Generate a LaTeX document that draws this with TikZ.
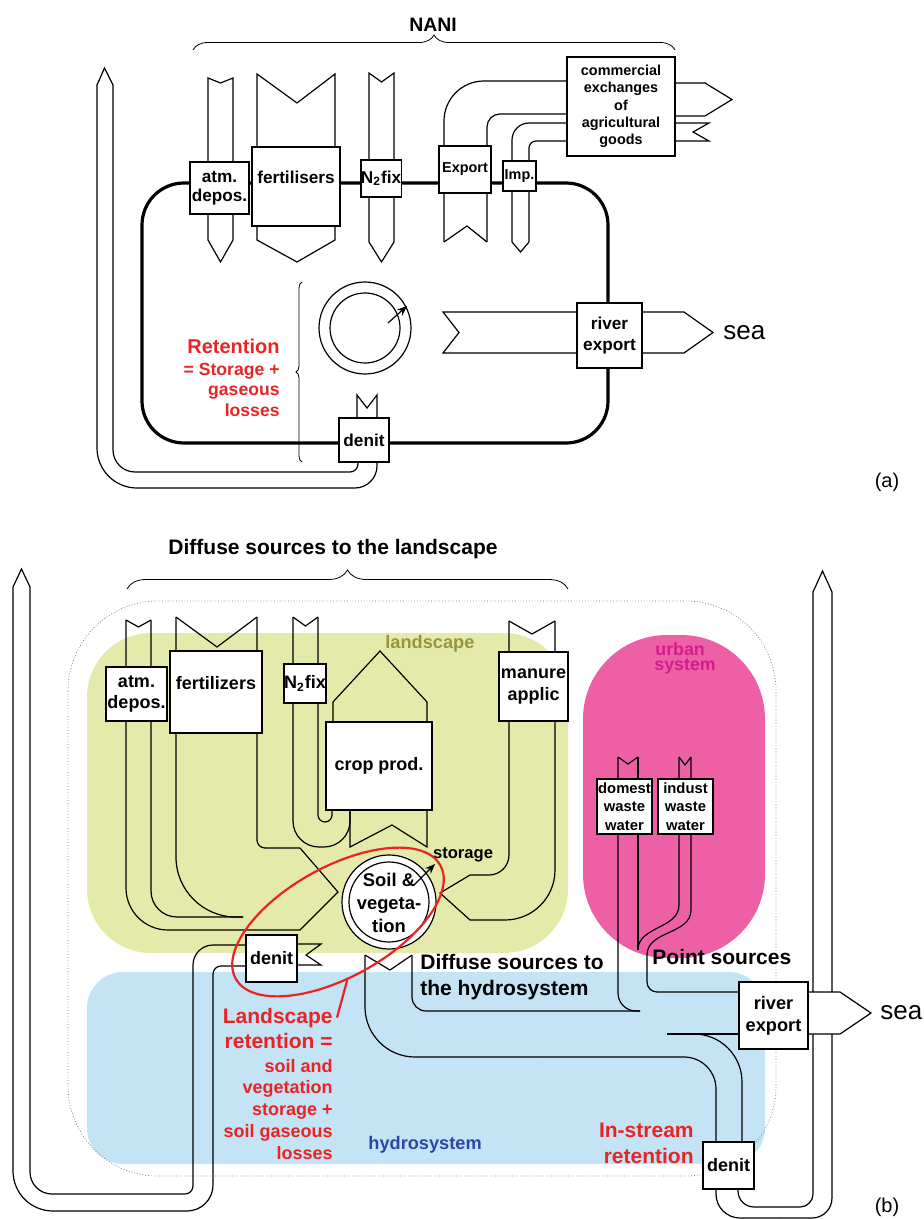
\documentclass[tikz,border=0pt]{standalone}
\usepackage{fontspec}
\setmainfont{Liberation Sans}
\usepackage{tikz}
\usetikzlibrary{arrows.meta, shapes.geometric, decorations.pathreplacing}

\definecolor{landfill}{RGB}{228,235,170}
\definecolor{urbanfill}{RGB}{237,96,166}
\definecolor{hydrofill}{RGB}{196,228,246}
\definecolor{landtxt}{RGB}{150,150,60}
\definecolor{urbantxt}{RGB}{210,30,140}
\definecolor{hydrotxt}{RGB}{45,70,170}
\definecolor{retred}{RGB}{232,36,36}

\begin{document}
\begin{tikzpicture}[
    x=0.5pt, y=-0.5pt,
    box/.style={draw, fill=white, line width=0.6pt, inner sep=0pt, align=center},
    band/.style={line width=0.6pt},
    fatloop/.style={line width=1.6pt},
    lblA/.style={font=\bfseries\fontsize{8.6}{9.7}\selectfont},
    lblB/.style={font=\bfseries\fontsize{9}{10.5}\selectfont},
    smalltxt/.style={font=\bfseries\fontsize{7.2}{8.7}\selectfont},
    urbtxt/.style={font=\bfseries\fontsize{7.4}{9.2}\selectfont},
    headtxt/.style={font=\bfseries\fontsize{10.5}{12.5}\selectfont, anchor=base, inner sep=0pt},
    redbig/.style={text=retred, font=\bfseries\fontsize{10.5}{13}\selectfont, anchor=base east, inner sep=0pt},
    redsmall/.style={text=retred, font=\bfseries\fontsize{9}{11}\selectfont, anchor=base east, inner sep=0pt},
    seatext/.style={font=\fontsize{13}{15}\selectfont, anchor=west, inner sep=0pt},
    regtxt/.style={font=\bfseries\fontsize{9.1}{11}\selectfont, anchor=base west, inner sep=0pt},
]
\useasboundingbox (0,0) rectangle (923,1219);

% (a) NANI budget
\node[headtxt, font=\bfseries\fontsize{9.7}{11}\selectfont] (nani) at (433,32) {NANI};
\draw[decorate, decoration={brace, amplitude=7.5pt}] (193,50) -- (675,50);

\draw[fatloop, rounded corners=21pt] (142,183) rectangle (608,443);

\draw[band] (97,85) -- (104.5,68) -- (113,85);
\draw[band, rounded corners=20pt] (97,85) -- (97,488) -- (250,488);
\draw[band, rounded corners=11pt] (250,488) -- (377,488) -- (377,462);
\draw[band, rounded corners=11pt] (113,85) -- (113,472) -- (250,472);
\draw[band, rounded corners=4pt] (250,472) -- (358,472) -- (358,462);
\draw[band] (357,418) -- (357,395) -- (367,408) -- (377,395) -- (377,418);

\draw[band] (208,240) -- (208,78) -- (220.5,83) -- (233,78) -- (233,240) -- (220.5,262) -- cycle;
\draw[band] (257,240) -- (257,74) -- (297,103) -- (335,74) -- (335,240) -- (297,262) -- cycle;
\draw[band] (369,242) -- (369,73) -- (381.5,82) -- (394,73) -- (394,242) -- (381.5,262) -- cycle;

\draw[band, rounded corners=20pt] (444,242) -- (444,81) -- (567,81);
\draw[band, rounded corners=6.5pt] (487,242) -- (487,114) -- (567,114);
\draw[band] (444,242) -- (467,226) -- (487,242);
\draw[band, rounded corners=8.5pt] (512,242) -- (512,123) -- (567,123);
\draw[band, rounded corners=3.5pt] (529,242) -- (529,141) -- (567,141);
\draw[band] (512,242) -- (520.5,252) -- (529,242);

\draw[band] (675,83) -- (705,83) -- (732,99.5) -- (705,116) -- (675,116);
\draw[band] (675,123) -- (709,123) -- (693,132) -- (709,141) -- (675,141);

\draw[band] (577,312) -- (443,312) -- (459,332.5) -- (443,353) -- (577,353);
\draw[band] (642,312) -- (684,312) -- (713,332.5) -- (684,353) -- (642,353);

\node[circle, draw, band, minimum size=46pt, inner sep=0pt] (pool) at (365,328) {};
\node[circle, draw, band, minimum size=35pt, inner sep=0pt] (poolin) at (pool) {};
\draw[band, -{Stealth[length=5pt, width=4pt]}] (388,323) -- (407,306);

\node[box, lblA, minimum width=29.5pt, minimum height=26pt] (atmA) at (219.5,188) {atm.\\depos.};
\node[box, lblA, minimum width=44pt, minimum height=39.5pt, text depth=9.5pt] (fertA) at (296,186.5) {fertilisers};
\node[box, lblA, minimum width=20pt, minimum height=18.5pt] (nfixA) at (381,178.5) {N\textsubscript{2}fix};
\node[box, smalltxt, minimum width=26pt, minimum height=23.5pt] (expA) at (465,169.5) {Export};
\node[box, smalltxt, minimum width=16.5pt, minimum height=15pt] (impA) at (519.5,176) {Imp.};
\node[box, smalltxt, minimum width=54pt, minimum height=49.5pt] (comm) at (621,106.5) {commercial\\exchanges\\of\\agricultural\\goods};
\node[box, font=\bfseries\fontsize{8.6}{10.7}\selectfont, minimum width=32.5pt, minimum height=32.5pt] (rivA) at (609.5,335.5) {river\\export};
\node[box, lblA, minimum width=25pt, minimum height=22pt] (denA) at (364,440) {denit};

\draw[decorate, decoration={brace, amplitude=3pt}] (302,462) -- (302,282);
\node[redbig, font=\bfseries\fontsize{10}{12}\selectfont] (retA) at (280,353) {Retention};
\foreach \txt/\yy in {= Storage +/375, gaseous/395, losses/416}
    \node[redsmall, font=\bfseries\fontsize{8.8}{10}\selectfont] at (280,\yy) {\txt};

\node[seatext] (seaA) at (723,333) {sea};
\node[font=\fontsize{10}{12}\selectfont] (tagA) at (887,482) {(a)};

% (b) landscape, urban and hydro systems
\fill[landfill, rounded corners=32pt] (87,633) rectangle (568,953);
\fill[urbanfill, rounded corners=42pt] (583,635) rectangle (765,958);
\fill[hydrofill, rounded corners=18pt] (87,972) rectangle (765,1164);
\draw[gray, densely dotted, line width=0.4pt, rounded corners=45pt] (68,601) rectangle (776,1176);

\node[regtxt, text=landtxt] (landlbl) at (385,648) {landscape};
\node[regtxt, text=urbantxt, font=\bfseries\fontsize{8.9}{10}\selectfont] (urblbl) at (655,655) {urban};
\node[regtxt, text=urbantxt, font=\bfseries\fontsize{8.9}{10}\selectfont] (urblbl2) at (654,670) {system};
\node[regtxt, text=hydrotxt] (hydlbl) at (368,1149) {hydrosystem};

\node[headtxt] (diffL) at (333,554) {Diffuse sources to the landscape};
\draw[decorate, decoration={brace, amplitude=9.5pt}] (127,589) -- (568,589);

\draw[band] (13,587) -- (21.5,569) -- (30,587);
\draw[band, rounded corners=20pt] (13,587) -- (13,1211) -- (110,1211);
\draw[band, rounded corners=13pt] (110,1211) -- (213,1211) -- (213,1100);
\draw[band, rounded corners=4pt] (213,1100) -- (213,966) -- (246,966);
\draw[band, rounded corners=11pt] (30,587) -- (30,1194) -- (110,1194);
\draw[band, rounded corners=4pt] (110,1194) -- (193,1194) -- (193,1100);
\draw[band, rounded corners=10pt] (193,1100) -- (193,945) -- (246,945);
\draw[band] (297,944) -- (321,944) -- (306,955) -- (321,965) -- (297,965);

\draw[band] (126,620) -- (138.5,627) -- (151,620);
\draw[band, rounded corners=21pt] (126,620) -- (126,930) -- (300,930);
\draw[band, rounded corners=13pt] (151,620) -- (151,917) -- (243,917);
\draw[band] (176,617) -- (217,647) -- (257,617);
\draw[band, rounded corners=30pt] (176,617) -- (176,917) -- (243,917);
\draw[band, rounded corners=4pt] (257,617) -- (257,848) -- (300,848);
\draw[band] (300,848) -- (338,892) -- (300,930);

\draw[band] (293,617) -- (305.5,626) -- (318,617);
\draw[band, rounded corners=13pt] (293,617) -- (293,847) -- (350,847) -- (350,810);
\draw[band, rounded corners=3.5pt] (318,617) -- (318,822) -- (332,822) -- (332,810);
\draw[band] (350,810) -- (350,847) -- (392,825) -- (427,847) -- (427,810);
\draw[band] (333,722) -- (333,702) -- (380,651) -- (427,702) -- (427,722);

\draw[band] (509,621) -- (532,634) -- (555,621);
\draw[band, rounded corners=10pt] (509,621) -- (509,875) -- (470,875);
\draw[band, rounded corners=25pt] (555,621) -- (555,920) -- (470,920);
\draw[band] (470,875) -- (440,893) -- (470,920);

\draw[band] (365,955) -- (390,970) -- (412,955);
\draw[band, rounded corners=25pt] (365,955) -- (365,1057) -- (540,1057);
\draw[band, rounded corners=16pt] (540,1057) -- (716,1057) -- (716,1142);
\draw[band, rounded corners=7pt] (412,955) -- (412,1011) -- (640,1011);

\draw[band] (618,757) -- (628,764) -- (638,757);
\draw[band] (679,757) -- (685,765) -- (691,757);
\draw[band, rounded corners=9pt] (618,757) -- (618,1011) -- (640,1011);
\draw[band] (638,757) -- (638,950);
\draw[band] (679,757) -- (679,905) to[out=-90, in=90] (638,950);
\draw[band] (691,757) -- (691,910) to[out=-90, in=90] (647,955);
\draw[band, rounded corners=5pt] (647,955) -- (647,992) -- (739,992);

\draw[band] (667,1034) -- (739,1034);
\draw[band, rounded corners=24pt] (693,1034) -- (742,1034) -- (742,1142);

\draw[band, rounded corners=8pt] (738,1189) -- (738,1207) -- (780,1207);
\draw[band, rounded corners=6.5pt] (780,1207) -- (813,1207) -- (813,592);
\draw[band, rounded corners=12pt] (716,1189) -- (716,1218) -- (780,1218);
\draw[band, rounded corners=10pt] (780,1218) -- (832,1218) -- (832,592);
\draw[band] (813,592) -- (822.5,571) -- (832,592);
\draw[band, fill=white] (808,992) -- (840,992) -- (871,1013) -- (840,1034) -- (808,1034);

\node[circle, draw, fill=white, band, minimum size=47pt, inner sep=0pt] (soil) at (389,902) {};
\node[circle, draw, band, minimum size=40pt, inner sep=0pt] (soilin) at (soil) {};
\node[align=center, inner sep=0pt, font=\bfseries\fontsize{9.2}{11.5}\selectfont] (soiltxt) at (389,903) {Soil \&\\vegeta-\\tion};
\draw[band, -{Stealth[length=5pt, width=4pt]}] (414,885) -- (435,864);
\node[font=\bfseries\fontsize{8.3}{10}\selectfont] (store) at (463,855) {storage};

\node[box, lblB, minimum width=30.5pt, minimum height=27pt] (atmB) at (136.5,694) {atm.\\depos.};
\node[box, lblB, minimum width=46pt, minimum height=41pt, text depth=9.5pt] (fertB) at (216,692) {fertilizers};
\node[box, lblB, minimum width=21pt, minimum height=19.5pt] (nfixB) at (305,683.5) {N\textsubscript{2}fix};
\node[box, lblB, minimum width=53pt, minimum height=44pt] (crop) at (379,766) {crop prod.};
\node[box, lblB, font=\bfseries\fontsize{9}{11}\selectfont, minimum width=34.5pt, minimum height=34.5pt] (manure) at (533.5,686.5) {manure\\applic};
\node[box, urbtxt, minimum width=27.5pt, minimum height=27.5pt] (domest) at (624.5,806.5) {domest\\waste\\water};
\node[box, urbtxt, minimum width=27.5pt, minimum height=27.5pt] (indust) at (685.5,806.5) {indust\\waste\\water};
\node[box, lblB, minimum width=25.5pt, minimum height=23.5pt] (denL) at (271.5,958.5) {denit};
\node[box, lblB, minimum width=25.5pt, minimum height=23.5pt] (denH) at (728.5,1165.5) {denit};
\node[box, font=\bfseries\fontsize{9.1}{10.8}\selectfont, minimum width=34.5pt, minimum height=33.5pt] (rivB) at (773.5,1015.5) {river\\export};

\node[headtxt, anchor=base west] (diffH) at (420,969) {Diffuse sources to};
\node[headtxt, anchor=base west] (diffH2) at (420,995) {the hydrosystem};
\node[headtxt, anchor=base west] (point) at (652,964) {Point sources};

\node[ellipse, draw=retred, line width=1.1pt, rotate=29, minimum width=117pt, minimum height=55pt, inner sep=0pt] (lret) at (338,922) {};
\node[redbig] (ltxt) at (333,1023) {Landscape};
\node[redbig] (ltxt2) at (333,1048) {retention =};
\foreach \txt/\yy in {soil and/1072, vegetation/1093, storage +/1115, soil gaseous/1137, losses/1159}
    \node[redsmall] at (333,\yy) {\txt};
\draw[retred, line width=1.1pt] (lret.-110) -- ([xshift=2pt]ltxt.east);

\node[redbig] (istr) at (694,1137) {In-stream};
\node[redbig] (istr2) at (694,1163) {retention};

\node[seatext] (seaB) at (880,1013) {sea};
\node[font=\fontsize{10}{12}\selectfont] (tagB) at (887,1207) {(b)};
\end{tikzpicture}
\end{document}
